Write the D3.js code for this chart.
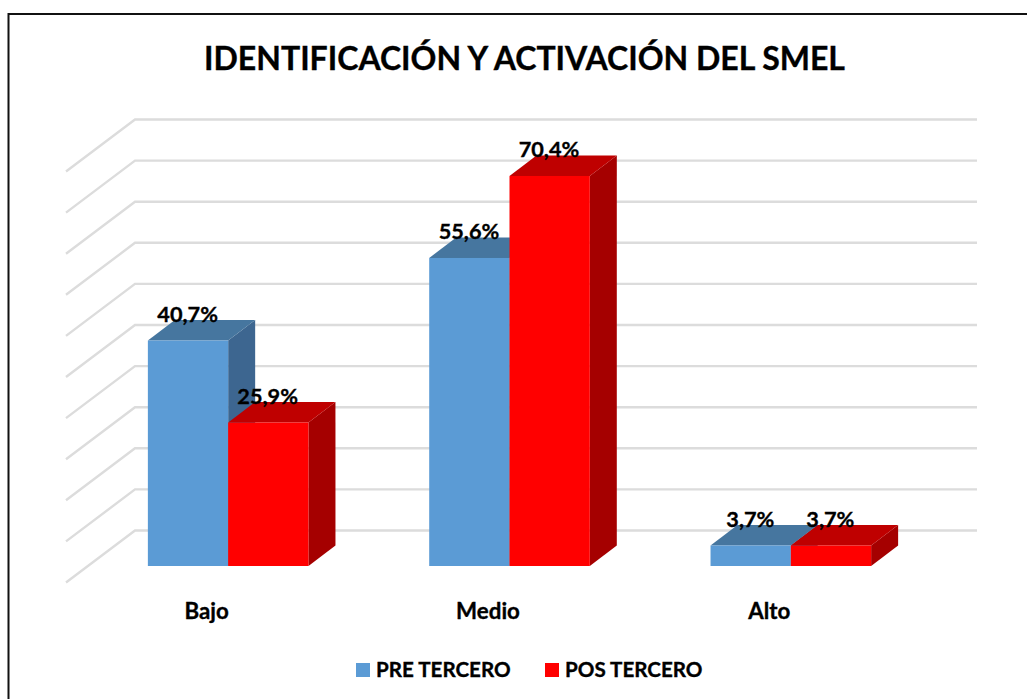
<!DOCTYPE html>
<html>
<head>
<meta charset="utf-8">
<script src="https://cdn.jsdelivr.net/npm/d3@7"></script>
<style>
html, body { margin: 0; padding: 0; background: #fff; }
svg { display: block; }
text { font-family: Lato, "Open Sans", sans-serif; font-weight: 700; fill: #000; stroke: #000; stroke-width: 0.35; }
</style>
</head>
<body>
<div id="chart"></div>
<script>
const categories = ["Bajo", "Medio", "Alto"];
const preTercero = [40.7, 55.6, 3.7];
const posTercero = [25.9, 70.4, 3.7];
const seriesNames = ["PRE TERCERO", "POS TERCERO"];
const gridLevels = d3.range(0, 11);

const width = 1027, height = 699;
const colors = {
    pre: {front: "#5b9bd5", top: "#46769f", side: "#3d6690"},
    pos: {front: "#ff0000", top: "#bf0000", side: "#a50000"}
};

const svg = d3.select("#chart").append("svg")
    .attr("width", width)
    .attr("height", height);

// chart frame
svg.append("rect")
    .attr("x", 8.5).attr("y", 14)
    .attr("width", 1030).attr("height", 700)
    .attr("fill", "#fff")
    .attr("stroke", "#111")
    .attr("stroke-width", 2);

svg.append("text")
    .attr("x", 524.5).attr("y", 69.5)
    .attr("text-anchor", "middle")
    .attr("font-size", 32)
    .text("IDENTIFICACIÓN Y ACTIVACIÓN DEL SMEL");

// back wall scale and floor depth
const gridY = d3.scaleLinear().domain([0, 10]).range([530.5, 119.5]);
const wallLeft = 135, wallRight = 977;
const wallDx = -69, wallDy = 52;

const gridG = svg.append("g").attr("fill", "none").attr("stroke", "#dcdcdc").attr("stroke-width", 2.4);
gridG.selectAll("path")
    .data(gridLevels)
    .join("path")
    .attr("d", d => {
        const y = gridY(d);
        return d3.line()([[wallLeft + wallDx, y + wallDy], [wallLeft, y], [wallRight, y]]);
    });

// bars
const xScale = d3.scaleBand().domain(categories).range([87.5, 931.5]);
const yScale = d3.scaleLinear().domain([0, 100]).range([566, 12]);
const barW = 80.3, depthX = 27, depthY = 20.5;

function drawBar(g, x, value, c) {
    const y0 = yScale(0), y1 = yScale(value);
    g.append("path").attr("fill", c.side)
        .attr("d", d3.line()([[x + barW, y1], [x + barW + depthX, y1 - depthY], [x + barW + depthX, y0 - depthY], [x + barW, y0]]) + "Z");
    g.append("path").attr("fill", c.top)
        .attr("d", d3.line()([[x, y1], [x + depthX, y1 - depthY], [x + barW + depthX, y1 - depthY], [x + barW, y1]]) + "Z");
    g.append("rect").attr("fill", c.front)
        .attr("x", x).attr("y", y1)
        .attr("width", barW).attr("height", y0 - y1);
}

const barsG = svg.append("g");
// draw back to front, red after blue in each group
categories.forEach((cat, i) => {
    const center = xScale(cat) + xScale.bandwidth() / 2;
    drawBar(barsG, center - barW, preTercero[i], colors.pre);
    drawBar(barsG, center, posTercero[i], colors.pos);
});

// value labels
const labelFmt = v => v.toFixed(1).replace(".", ",") + "%";
categories.forEach((cat, i) => {
    const center = xScale(cat) + xScale.bandwidth() / 2;
    [[preTercero[i], center - 40.5], [posTercero[i], center + 39.5]].forEach(([v, cx]) => {
        svg.append("text")
            .attr("x", cx).attr("y", yScale(v) - 19)
            .attr("text-anchor", "middle")
            .attr("font-size", 21.7)
            .text(labelFmt(v));
    });
});

// category labels
svg.selectAll(".catLabel")
    .data(categories)
    .join("text")
    .attr("class", "catLabel")
    .attr("x", d => xScale(d) + xScale.bandwidth() / 2 - 21.5)
    .attr("y", 618.5)
    .attr("text-anchor", "middle")
    .attr("font-size", 22.3)
    .text(d => d);

// legend
const legendX = [356, 545];
seriesNames.forEach((name, i) => {
    svg.append("rect")
        .attr("x", legendX[i]).attr("y", 663)
        .attr("width", 14).attr("height", 14)
        .attr("fill", i === 0 ? colors.pre.front : colors.pos.front);
    svg.append("text")
        .attr("x", legendX[i] + 20).attr("y", 677)
        .attr("font-size", 20.6)
        .text(name);
});
</script>
</body>
</html>
